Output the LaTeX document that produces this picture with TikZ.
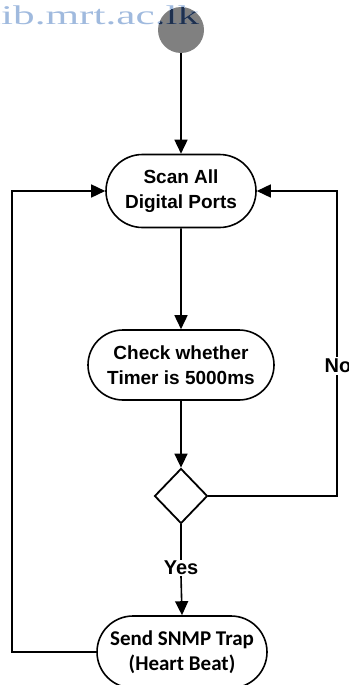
\documentclass[tikz,border=0pt]{standalone}
\usepackage{fontspec}
\setmainfont{Liberation Sans}
\newfontfamily\carlito{Carlito}
\newfontfamily\wmfont{Liberation Serif}
\usetikzlibrary{shapes.misc,shapes.geometric,arrows.meta}

\definecolor{wmlight}{RGB}{160,186,222}
\definecolor{wmdark}{RGB}{30,48,78}

\tikzset{
  flowline/.style={line width=1.6pt},
  flow/.style={flowline,-{Triangle[length=14pt,width=13pt]}},
  stadium/.style={rounded rectangle, draw, line width=1.6pt, align=center,
    inner sep=0pt, font=\bfseries\fontsize{19}{25}\selectfont},
  decision/.style={diamond, draw, line width=1.8pt, minimum width=53pt,
    minimum height=55pt, inner sep=0pt},
  lbl/.style={fill=white, inner sep=2pt, font=\bfseries\fontsize{20}{24}\selectfont},
  watermark/.style={inner sep=0pt, anchor=base west,
    font=\fontsize{27}{27}\selectfont\wmfont}
}

\begin{document}
\begin{tikzpicture}[x=1pt,y=-1pt]
  \useasboundingbox (0,0) rectangle (348,685);

  % start marker
  \node[circle, fill=black!50, minimum size=46pt, inner sep=0pt] (start) at (181,30) {};

  % site watermark, darker where it crosses the start marker
  \node[watermark, text=wmlight] (wm) at (-11,25) {\scalebox{1.6}[1]{lib.mrt.ac.lk}};
  \begin{scope}
    \clip (181,30) circle (23pt);
    \node[watermark, text=wmdark] at (-11,25) {\scalebox{1.6}[1]{lib.mrt.ac.lk}};
  \end{scope}

  % activities
  \node[stadium, minimum width=150pt, minimum height=73pt] (scan) at (181,191)
    {Scan All\\Digital Ports};
  \node[stadium, minimum width=186pt, minimum height=70pt] (check) at (181,365)
    {Check whether\\Timer is 5000ms};
  \node[decision] (dia) at (181,496) {};
  \node[stadium, minimum width=170pt, minimum height=72pt,
        font=\carlito\bfseries\fontsize{21}{25}\selectfont] (send) at (182,652)
    {Send SNMP Trap\\(Heart Beat)};
  \node[lbl, inner sep=1pt] (yes) at (181,568) {Yes};

  % loop rails
  \coordinate (lx) at (12,0);
  \coordinate (rx) at (337,0);

  % connectors
  \draw[flow] (start) -- (scan);
  \draw[flow] (scan) -- (check);
  \draw[flow] (check) -- (dia);
  \draw[flowline] (dia.south) -- (yes.north);
  \draw[flow] (yes.south) -- (send.north);
  \draw[flow] (dia.east) -- (dia.east -| rx) --
    node[lbl, pos=0.426, xshift=1pt] (no) {No} (scan.east -| rx) -- (scan.east);
  \draw[flow] (send.west) -- (send.west -| lx) -- (scan.west -| lx) -- (scan.west);
\end{tikzpicture}
\end{document}
